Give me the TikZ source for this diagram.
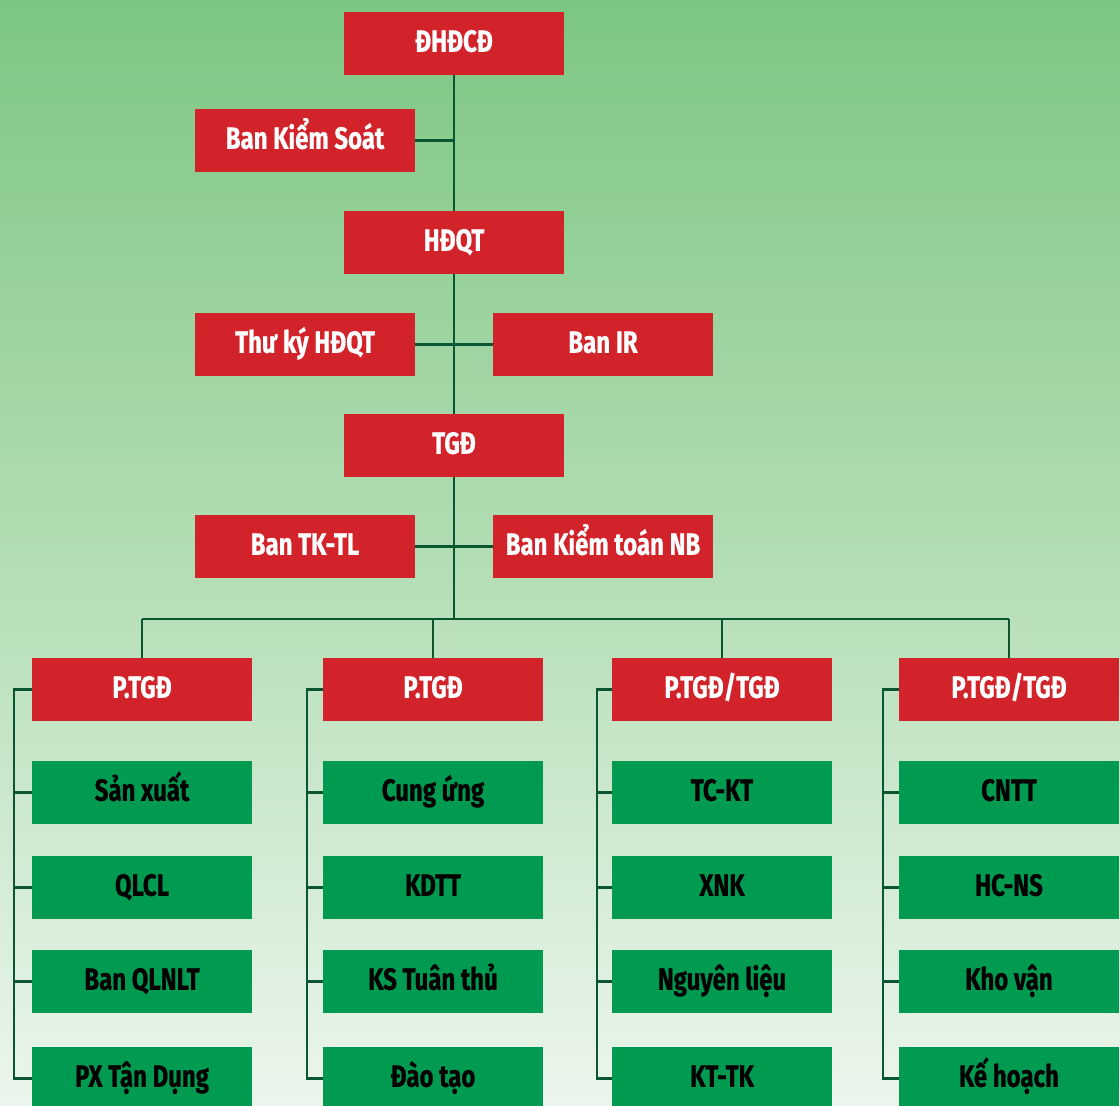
\documentclass[tikz,border=0pt]{standalone}
\usepackage{fontspec}
\setmainfont{Fira Sans}[BoldFont={Fira Sans Bold},BoldFeatures={FakeStretch=0.78,FakeBold=0.6},FakeStretch=0.78]
\definecolor{bgtop}{RGB}{125,198,130}
\definecolor{bgmid}{RGB}{178,221,180}
\definecolor{bgbot}{RGB}{236,246,236}
\definecolor{redbox}{RGB}{210,35,42}
\definecolor{greenbox}{RGB}{0,154,80}
\definecolor{linecol}{RGB}{10,85,50}
\tikzset{
  boxbase/.style={draw=none, minimum width=4.4cm, minimum height=1.26cm, inner sep=0pt, text height=14pt, text depth=4.6pt, font=\bfseries\fontsize{17.5}{17.5}\selectfont},
  redb/.style={boxbase, fill=redbox, text=white},
  greenb/.style={boxbase, fill=greenbox, text=black},
  conn/.style={draw=linecol, line width=1.6pt}
}
\begin{document}
\begin{tikzpicture}[x=0.02cm,y=-0.02cm]
\shade[top color=bgtop, bottom color=bgbot, middle color=bgmid] (0,0) rectangle (1120,1106);
\useasboundingbox (0,0) rectangle (1120,1106);
% top chain
\node[redb] (dhdcd) at (454,43.5) {ĐHĐCĐ};
\node[redb] (bks) at (305,140.5) {Ban Kiểm Soát};
\node[redb] (hdqt) at (454,242.5) {HĐQT};
\node[redb] (tky) at (305,344.5) {Thư ký HĐQT};
\node[redb] (ir) at (603,344.5) {Ban IR};
\node[redb] (tgd) at (454,445.5) {TGĐ};
\node[redb] (tktl) at (305,546.5) {Ban TK-TL};
\node[redb] (ktnb) at (603,546.5) {Ban Kiểm toán NB};
\coordinate (bus) at (454,619);
% columns
\node[redb] (p1) at (142,689.5) {P.TGĐ};
\node[redb] (p2) at (433,689.5) {P.TGĐ};
\node[redb] (p3) at (722,689.5) {P.TGĐ/TGĐ};
\node[redb] (p4) at (1009,689.5) {P.TGĐ/TGĐ};
\node[greenb] (a1) at (142,792.5) {Sản xuất};
\node[greenb] (a2) at (142,887.5) {QLCL};
\node[greenb] (a3) at (142,981.5) {Ban QLNLT};
\node[greenb] (a4) at (142,1078.5) {PX Tận Dụng};
\node[greenb] (b1) at (433,792.5) {Cung ứng};
\node[greenb] (b2) at (433,887.5) {KDTT};
\node[greenb] (b3) at (433,981.5) {KS Tuân thủ};
\node[greenb] (b4) at (433,1078.5) {Đào tạo};
\node[greenb] (c1) at (722,792.5) {TC-KT};
\node[greenb] (c2) at (722,887.5) {XNK};
\node[greenb] (c3) at (722,981.5) {Nguyên liệu};
\node[greenb] (c4) at (722,1078.5) {KT-TK};
\node[greenb] (d1) at (1009,792.5) {CNTT};
\node[greenb] (d2) at (1009,887.5) {HC-NS};
\node[greenb] (d3) at (1009,981.5) {Kho vận};
\node[greenb] (d4) at (1009,1078.5) {Kế hoạch};
% connectors
\draw[conn] (dhdcd.south) -- (hdqt.north);
\draw[conn] (bks.east) -- (bks.east -| dhdcd.south);
\draw[conn] (hdqt.south) -- (tgd.north);
\draw[conn] (tky.east) -- (ir.west);
\draw[conn] (tgd.south) -- (bus);
\draw[conn] (tktl.east) -- (ktnb.west);
\draw[conn] (p1.north |- bus) -- (p4.north |- bus);
\foreach \p in {p1,p2,p3,p4} \draw[conn] (\p.north |- bus) -- (\p.north);
\foreach \p/\x/\l in {p1/14/a, p2/307/b, p3/597/c, p4/883/d} {
  \draw[conn] (\p.west) -- (\x,689.5) -- (\x,1078.5) -- (\l4.west);
  \foreach \i in {1,2,3} \draw[conn] (\x,0 |- \l\i.west) -- (\l\i.west);
}
\end{tikzpicture}
\end{document}
